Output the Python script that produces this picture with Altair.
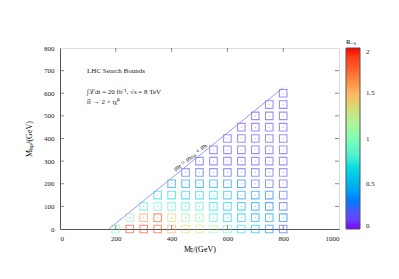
import math
import altair as alt
import pandas as pd

# ---------------- data ----------------
stop_masses = [200, 250, 300, 350, 400, 450, 500, 550, 600, 650, 700, 750, 800]
lsp_grid = [0, 50, 100, 150, 200, 250, 300, 350, 400, 450, 500, 550, 600]
# R values per stop-mass column, from LSP = 0 upwards
r_columns = [
    [1.0],
    [1.9, 1.05],
    [1.9, 1.6, 0.8],
    [1.88, 1.85, 0.9, 0.65],
    [1.55, 1.35, 0.85, 0.65, 0.4],
    [1.35, 1.1, 0.85, 0.6, 0.4, 0.25],
    [1.3, 1.0, 0.8, 0.6, 0.35, 0.25, 0.15],
    [1.1, 0.75, 0.7, 0.65, 0.4, 0.25, 0.15, 0.12],
    [0.9, 0.65, 0.6, 0.5, 0.35, 0.2, 0.15, 0.12, 0.1],
    [0.7, 0.6, 0.5, 0.4, 0.3, 0.2, 0.15, 0.12, 0.1, 0.1],
    [0.5, 0.45, 0.4, 0.35, 0.25, 0.2, 0.15, 0.12, 0.1, 0.1, 0.1],
    [0.35, 0.4, 0.3, 0.3, 0.2, 0.18, 0.15, 0.12, 0.1, 0.1, 0.1, 0.1],
    [0.22, 0.3, 0.25, 0.22, 0.15, 0.15, 0.12, 0.12, 0.1, 0.1, 0.1, 0.1, 0.1],
]
line_x = [175, 800]
line_y = [0, 625]
x_ticks = [0, 200, 400, 600, 800, 1000]
y_ticks = [0, 100, 200, 300, 400, 500, 600, 700, 800]
legend_ticks = [0, 0.5, 1, 1.5, 2]
notes = ["LHC Search Bounds", "∫ℒdt = 20 fb⁻¹, √s = 8 TeV", "t̃t̃ → 2 × tχ̃⁰"]
notes_x = [97, 97, 97]
notes_y = [700, 604, 562]

# ---------------- tables ----------------
rows = []
for xm, col in zip(stop_masses, r_columns):
    for ym, r in zip(lsp_grid, col):
        rows.append({"mstop": xm, "mlsp": ym, "R": r})
pts = pd.DataFrame(rows)
line_df = pd.DataFrame({"x": line_x, "y": line_y})
notes_df = pd.DataFrame({"x": notes_x, "y": notes_y, "t": notes})
xt_df = pd.DataFrame({"x": x_ticks[1:-1]})
yt_df = pd.DataFrame({"y": y_ticks[1:-1]})

# gnuplot rgbformulae 33,13,10 palette
def pal(t):
    r = min(1.0, abs(2 * t - 0.5))
    g = max(0.0, math.sin(math.pi * t))
    b = max(0.0, math.cos(math.pi * t / 2))
    return "#%02x%02x%02x" % (round(r * 255), round(g * 255), round(b * 255))

stops = [i / 8 for i in range(9)]
cdomain = [2 * s for s in stops]
crange = [pal(s) for s in stops]

W, H = 279, 181
FONT = "Liberation Serif"
xs = alt.Scale(domain=[0, 1000], nice=False)
ys = alt.Scale(domain=[0, 800], nice=False)

x_axis = alt.Axis(values=x_ticks, ticks=False, labelFontSize=7, labelFont=FONT,
                  labelColor="#222", labelPadding=5, domainColor="#555",
                  labelOverlap=False,
                  title="Mₜ̃/(GeV)", titleFont=FONT, titleFontSize=8,
                  titleFontWeight="normal", titlePadding=4, grid=False, format="d")
y_axis = alt.Axis(values=y_ticks, ticks=False, labelFontSize=7, labelFont=FONT,
                  labelColor="#222", labelPadding=6, domainColor="#555",
                  labelOverlap=False,
                  title="Mₗₛₚ/(GeV)", titleFont=FONT, titleFontSize=8,
                  titleFontWeight="normal", titlePadding=10, grid=False, format="d")

XA = lambda f: alt.X(f, scale=xs, axis=x_axis)
YA = lambda f: alt.Y(f, scale=ys, axis=y_axis)

squares = alt.Chart(pts).mark_point(shape="square", filled=False, size=57, opacity=1,
                                    strokeWidth=1.1, strokeOpacity=0.6).encode(
    x=XA("mstop:Q"),
    y=YA("mlsp:Q"),
    color=alt.Color("R:Q", scale=alt.Scale(domain=cdomain, range=crange),
                    legend=alt.Legend(title="Rᵥᵢₛ", orient="none", legendX=286, legendY=-10,
                                      gradientLength=H, gradientThickness=14,
                                      values=legend_ticks, format="~g",
                                      labelFont=FONT, labelFontSize=7, labelColor="#222",
                                      labelOffset=6, titleFont=FONT, titleFontSize=7,
                                      titleFontWeight="normal", titlePadding=3,
                                      gradientStrokeColor="#555", gradientStrokeWidth=1,
                                      padding=0, tickCount=5)),
)

dots = alt.Chart(pts).mark_circle(size=1.5, color="#888", opacity=0.6).encode(
    x=XA("mstop:Q"), y=YA("mlsp:Q"))

diag = alt.Chart(line_df).mark_line(color="#9090f0", strokeWidth=0.9).encode(
    x=XA("x:Q"), y=YA("y:Q"))

diag_label = alt.Chart(pd.DataFrame({"x": [468], "y": [318], "t": ["mₜ̃ = mₗₛₚ + mₜ"]})).mark_text(
    angle=321, font=FONT, fontSize=7, color="#222").encode(
    x=XA("x:Q"), y=YA("y:Q"), text="t:N")

notes_layer = alt.Chart(notes_df).mark_text(align="left", font=FONT, fontSize=7,
                                            color="#222").encode(
    x=XA("x:Q"), y=YA("y:Q"), text="t:N")

tick_kw = dict(color="#555", thickness=1, size=4)
xt_bottom = alt.Chart(xt_df).mark_tick(**tick_kw).encode(x=XA("x:Q"), y=alt.value(H - 2))
xt_top = alt.Chart(xt_df).mark_tick(**tick_kw).encode(x=XA("x:Q"), y=alt.value(2))
yt_left = alt.Chart(yt_df).mark_tick(**tick_kw).encode(y=YA("y:Q"), x=alt.value(2))
yt_right = alt.Chart(yt_df).mark_tick(**tick_kw).encode(y=YA("y:Q"), x=alt.value(W - 2))

chart = alt.layer(
    squares, dots, diag, diag_label, notes_layer, xt_bottom, xt_top, yt_left, yt_right
).properties(
    width=W, height=H,
    autosize=alt.AutoSizeParams(type="none"),
    padding={"left": 52, "top": 40, "right": 40, "bottom": 36},
).configure_view(stroke="#555", strokeWidth=1).configure(background="white")

chart.save("out.html", embed_options={"renderer": "svg", "actions": False})
